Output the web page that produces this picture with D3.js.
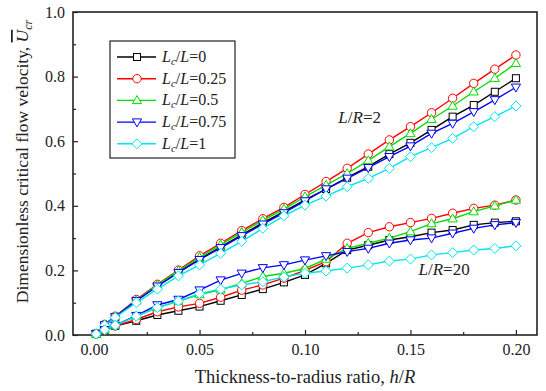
<!DOCTYPE html>
<html>
<head>
<meta charset="utf-8">
<script src="https://cdn.jsdelivr.net/npm/d3@7"></script>
<style>
  body { margin: 0; background: #fff; }
  text { font-family: "Liberation Serif", "Times New Roman", serif; fill: #222; }
</style>
</head>
<body>
<div id="chart"></div>
<script>
// Data
var hR = [0.001, 0.005, 0.01, 0.02, 0.03, 0.04, 0.05, 0.06, 0.07, 0.08, 0.09, 0.10,
          0.11, 0.12, 0.13, 0.14, 0.15, 0.16, 0.17, 0.18, 0.19, 0.20];

var seriesNames = ['0', '0.25', '0.5', '0.75', '1'];
var seriesColors = ['#000000', '#ff0000', '#00dd00', '#0000ff', '#00e5ee'];
var seriesSymbols = ['square', 'circle', 'triangle', 'triangleDown', 'diamond'];

// L/R = 2
var lr2_0    = [0.004, 0.031, 0.056, 0.106, 0.152, 0.195, 0.235, 0.272, 0.310, 0.347, 0.382, 0.418, 0.452, 0.487, 0.521, 0.560, 0.595, 0.635, 0.676, 0.712, 0.753, 0.795];
var lr2_025  = [0.004, 0.033, 0.058, 0.110, 0.157, 0.201, 0.245, 0.284, 0.323, 0.360, 0.395, 0.435, 0.475, 0.516, 0.560, 0.604, 0.645, 0.688, 0.733, 0.779, 0.823, 0.867];
var lr2_05   = [0.004, 0.032, 0.057, 0.107, 0.155, 0.199, 0.240, 0.279, 0.318, 0.355, 0.390, 0.428, 0.464, 0.500, 0.540, 0.583, 0.624, 0.668, 0.709, 0.753, 0.795, 0.841];
var lr2_075  = [0.004, 0.031, 0.056, 0.106, 0.151, 0.193, 0.233, 0.270, 0.307, 0.343, 0.378, 0.415, 0.452, 0.485, 0.518, 0.552, 0.585, 0.624, 0.655, 0.691, 0.728, 0.767];
var lr2_1    = [0.004, 0.030, 0.054, 0.100, 0.142, 0.183, 0.217, 0.253, 0.290, 0.330, 0.369, 0.402, 0.430, 0.459, 0.485, 0.516, 0.552, 0.580, 0.609, 0.645, 0.676, 0.709];

// L/R = 20
var lr20_0   = [0.003, 0.015, 0.028, 0.044, 0.062, 0.075, 0.088, 0.106, 0.124, 0.142, 0.163, 0.186, 0.222, 0.263, 0.278, 0.294, 0.304, 0.317, 0.325, 0.341, 0.348, 0.352];
var lr20_025 = [0.003, 0.015, 0.028, 0.048, 0.072, 0.087, 0.098, 0.117, 0.139, 0.155, 0.176, 0.200, 0.227, 0.284, 0.317, 0.335, 0.348, 0.361, 0.377, 0.392, 0.402, 0.418];
var lr20_05  = [0.003, 0.016, 0.030, 0.059, 0.085, 0.105, 0.125, 0.140, 0.160, 0.181, 0.191, 0.206, 0.235, 0.268, 0.284, 0.300, 0.320, 0.345, 0.360, 0.382, 0.400, 0.418];
var lr20_075 = [0.003, 0.016, 0.030, 0.060, 0.093, 0.110, 0.139, 0.170, 0.191, 0.208, 0.217, 0.232, 0.245, 0.258, 0.268, 0.284, 0.294, 0.300, 0.315, 0.330, 0.341, 0.348];
var lr20_1   = [0.003, 0.016, 0.030, 0.058, 0.085, 0.105, 0.128, 0.142, 0.155, 0.165, 0.180, 0.191, 0.198, 0.207, 0.217, 0.229, 0.235, 0.248, 0.255, 0.263, 0.268, 0.276];

var xTicks = [0.00, 0.05, 0.10, 0.15, 0.20];
var yTicks = [0.0, 0.2, 0.4, 0.6, 0.8, 1.0];

var groups = [
    [lr2_0, lr2_025, lr2_05, lr2_075, lr2_1],
    [lr20_0, lr20_025, lr20_05, lr20_075, lr20_1]
];

// Set up svg
var svgWidth = 546;
var svgHeight = 391;
var margin = { top: 12, right: 9, bottom: 56, left: 73 };
var chartWidth = svgWidth - margin.left - margin.right;
var chartHeight = svgHeight - margin.top - margin.bottom;

var svg = d3.select('#chart')
    .append('svg')
    .attr('width', svgWidth)
    .attr('height', svgHeight);

var chartGroup = svg.append('g')
    .attr('transform', `translate(${margin.left}, ${margin.top})`);

var xScale = d3.scaleLinear().domain([-0.01, 0.21]).range([0, chartWidth]);
var yScale = d3.scaleLinear().domain([0, 1]).range([chartHeight, 0]);

// Axes, ticks point inward
var bottomAxis = d3.axisBottom(xScale)
    .tickValues(xTicks)
    .tickSize(-5)
    .tickPadding(9)
    .tickFormat(d3.format('.2f'));
var leftAxis = d3.axisLeft(yScale)
    .tickValues(yTicks)
    .tickSize(-5)
    .tickPadding(8)
    .tickFormat(d3.format('.1f'));

var xAxis = chartGroup.append('g')
    .attr('transform', `translate(0, ${chartHeight})`)
    .call(bottomAxis);
var yAxis = chartGroup.append('g')
    .call(leftAxis);

// minor ticks
chartGroup.append('g')
    .attr('transform', `translate(0, ${chartHeight})`)
    .call(d3.axisBottom(xScale).tickValues([0.025, 0.075, 0.125, 0.175]).tickSize(-3).tickFormat(''));
chartGroup.append('g')
    .call(d3.axisLeft(yScale).tickValues([0.1, 0.3, 0.5, 0.7, 0.9]).tickSize(-3).tickFormat(''));

chartGroup.selectAll('.domain').remove();
chartGroup.selectAll('.tick line').attr('stroke', '#222').attr('stroke-width', 1.2);
chartGroup.selectAll('.tick text')
    .style('font-size', '16px')
    .attr('fill', '#222');

// frame
chartGroup.append('rect')
    .attr('width', chartWidth)
    .attr('height', chartHeight)
    .attr('fill', 'none')
    .attr('stroke', '#222')
    .attr('stroke-width', 1.6);

// Symbols
function drawSymbol(g, type, color) {
    var s;
    if (type === 'square') {
        s = g.append('rect').attr('x', -3.5).attr('y', -3.5).attr('width', 7).attr('height', 7);
    }
    else if (type === 'circle') {
        s = g.append('circle').attr('r', 4.2);
    }
    else if (type === 'triangle') {
        s = g.append('path').attr('d', 'M0,-4.8L4.6,3.2L-4.6,3.2Z');
    }
    else if (type === 'triangleDown') {
        s = g.append('path').attr('d', 'M0,4.8L4.6,-3.2L-4.6,-3.2Z');
    }
    else {
        s = g.append('path').attr('d', 'M0,-5L5,0L0,5L-5,0Z');
    }
    s.attr('fill', '#fff').attr('stroke', color).attr('stroke-width', 1);
}

var line = d3.line()
    .x((d) => xScale(d[0]))
    .y((d) => yScale(d[1]));

groups.forEach((grp) => {
    grp.forEach((vals, i) => {
        var pts = hR.map((x, j) => [x, vals[j]]);
        chartGroup.append('path')
            .datum(pts)
            .attr('d', line)
            .attr('fill', 'none')
            .attr('stroke', seriesColors[i])
            .attr('stroke-width', 1.4);
        pts.forEach((p) => {
            var g = chartGroup.append('g')
                .attr('transform', `translate(${xScale(p[0])}, ${yScale(p[1])})`);
            drawSymbol(g, seriesSymbols[i], seriesColors[i]);
        });
    });
});

// Group labels
function lrLabel(x, y, val) {
    var t = chartGroup.append('text')
        .attr('x', xScale(x))
        .attr('y', yScale(y))
        .style('font-size', '17px');
    t.append('tspan').style('font-style', 'italic').text('L');
    t.append('tspan').text('/');
    t.append('tspan').style('font-style', 'italic').text('R');
    t.append('tspan').text('=' + val);
}
lrLabel(0.1158, 0.657, '2');
lrLabel(0.1538, 0.187, '20');

// Legend
var legend = svg.append('g')
    .attr('transform', 'translate(110, 41)');
legend.append('rect')
    .attr('width', 125)
    .attr('height', 117)
    .attr('fill', '#fff')
    .attr('stroke', '#222')
    .attr('stroke-width', 1.2);

seriesNames.forEach((name, i) => {
    var y = 16 + i * 21.7;
    legend.append('line')
        .attr('x1', 7).attr('x2', 46)
        .attr('y1', y).attr('y2', y)
        .attr('stroke', seriesColors[i])
        .attr('stroke-width', 1.4);
    var g = legend.append('g').attr('transform', `translate(27, ${y})`);
    drawSymbol(g, seriesSymbols[i], seriesColors[i]);
    var t = legend.append('text')
        .attr('x', 52)
        .attr('y', y + 5)
        .style('font-size', '16px');
    t.append('tspan').style('font-style', 'italic').text('L');
    t.append('tspan').style('font-style', 'italic').style('font-size', '11px').attr('dy', 3).text('c');
    t.append('tspan').attr('dy', -3).text('/');
    t.append('tspan').style('font-style', 'italic').text('L');
    t.append('tspan').text('=' + name);
});

// Axis titles
var xTitle = svg.append('text')
    .attr('x', margin.left + chartWidth / 2)
    .attr('y', 383)
    .attr('text-anchor', 'middle')
    .style('font-size', '18.5px');
xTitle.append('tspan').text('Thickness-to-radius ratio, ');
xTitle.append('tspan').style('font-style', 'italic').text('h');
xTitle.append('tspan').text('/');
xTitle.append('tspan').style('font-style', 'italic').text('R');

var yTitle = svg.append('text')
    .attr('transform', `translate(28, ${margin.top + chartHeight / 2 - 12}) rotate(-90)`)
    .attr('text-anchor', 'middle')
    .style('font-size', '17.5px');
yTitle.append('tspan').text('Dimensionless critical flow velocity, ');
yTitle.append('tspan').style('font-style', 'italic').style('text-decoration', 'overline').text('U');
yTitle.append('tspan').style('font-style', 'italic').style('font-size', '12px').attr('dy', 4).text('cr');
</script>
</body>
</html>
